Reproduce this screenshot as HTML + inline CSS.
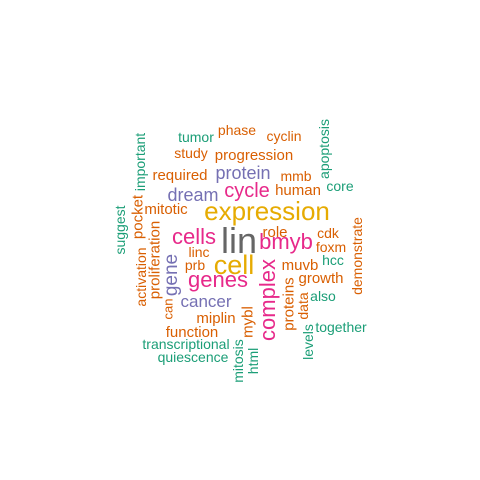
<!DOCTYPE html>
<html><head><meta charset="utf-8"><style>
html,body{margin:0;padding:0;background:#fff;}
svg{display:block;font-family:"Liberation Sans",Arial,sans-serif;}
</style></head><body>
<svg width="480" height="480" viewBox="0 0 480 480">
<rect width="480" height="480" fill="#fff"/>
<g id="words" text-anchor="middle"></g>
</svg>
<script>
const words = ["lin","expression","cell","complex","bmyb","genes","cells","cycle","dream","protein","progression","human","study","phase","tumor","cyclin","required","mmb","core","mitotic","role","cdk","foxm","hcc","muvb","growth","also","together","linc","prb","cancer","miplin","function","transcriptional","quiescence","gene","activation","proliferation","can","pocket","suggest","important","apoptosis","demonstrate","proteins","data","levels","mybl","mitosis","html"];
const sizes = [36,26,27,22,22,22,22,20,18,18,15,15,14,14,14,14,15,14,14,15,15,14,14,14,15,15,14,14,14,14,17,15,15,14,14,19,14,15,13,15,14,14,14,14,15,14,14,15,14,14];
const colors = ["#666666","#E6AB02","#E6AB02","#E7298A","#E7298A","#E7298A","#E7298A","#E7298A","#7570B3","#7570B3","#D95F02","#D95F02","#D95F02","#D95F02","#1B9E77","#D95F02","#D95F02","#D95F02","#1B9E77","#D95F02","#D95F02","#D95F02","#D95F02","#1B9E77","#D95F02","#D95F02","#1B9E77","#1B9E77","#D95F02","#D95F02","#7570B3","#D95F02","#D95F02","#1B9E77","#1B9E77","#7570B3","#D95F02","#D95F02","#D95F02","#D95F02","#1B9E77","#1B9E77","#1B9E77","#D95F02","#D95F02","#D95F02","#1B9E77","#D95F02","#1B9E77","#1B9E77"];
const cx = [239,267,234,267,286,218,194,247,193,243,254,298,191,237,196,284,180,296,340,166,275,328,331,333,300,321,323,341,199,195,206,216,192,186,193,170,141,154,168,137,120,140,324,357,288,303,308,247,238,253];
const cy = [253,220,274,300,249,287,244,197,201,179,160,195,158,135,142,141,180,181,191,214,237,238,252,265,270,283,301,332,257,270,307,323,337,349,362,275,277,260,309,217,230,162,149,256,304,306,342,322,361,361];
const rot = [0,0,0,1,0,0,0,0,0,0,0,0,0,0,0,0,0,0,0,0,0,0,0,0,0,0,0,0,0,0,0,0,0,0,0,1,1,1,1,1,1,1,1,1,1,1,1,1,1,1];
const g = document.getElementById('words');
const NS = "http://www.w3.org/2000/svg";
for (let i = 0; i < words.length; i++) {
  const t = document.createElementNS(NS, 'text');
  t.textContent = words[i];
  t.setAttribute('font-size', sizes[i]);
  t.setAttribute('fill', colors[i]);
  if (rot[i]) {
    t.setAttribute('x', 0); t.setAttribute('y', 0);
    t.setAttribute('dy', '0.36em');
    t.setAttribute('transform', 'translate(' + cx[i] + ',' + cy[i] + ') rotate(-90)');
  } else {
    t.setAttribute('x', cx[i]); t.setAttribute('y', cy[i]);
  }
  
  
  g.appendChild(t);
}
</script>
</body></html>
